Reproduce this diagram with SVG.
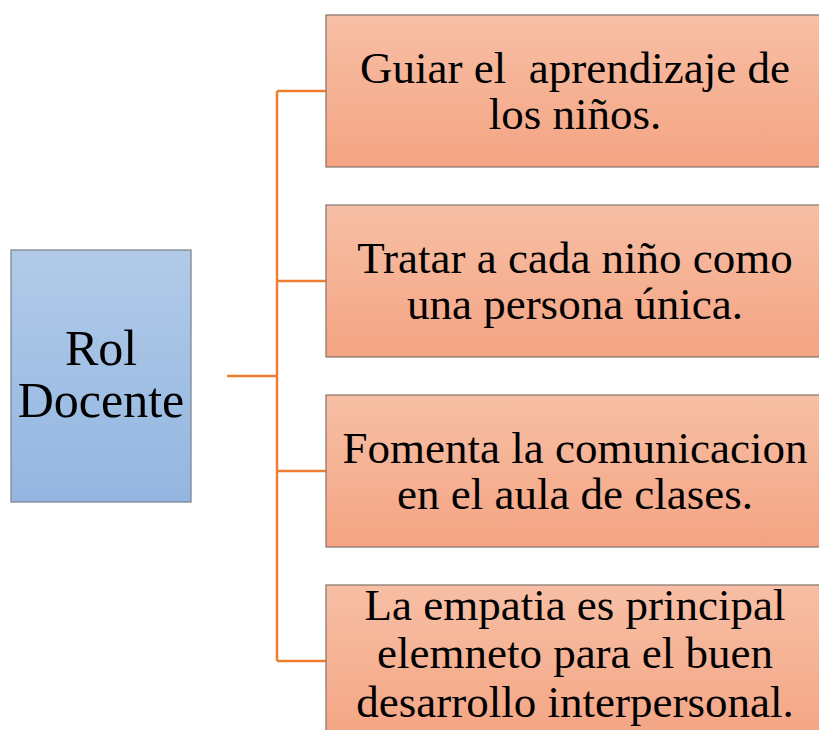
<svg xmlns="http://www.w3.org/2000/svg" width="819" height="730" viewBox="0 0 819 730">
<defs>
<linearGradient id="gO" x1="0" y1="0" x2="0" y2="1"><stop offset="0" stop-color="#F7BFA5"/><stop offset="1" stop-color="#F4A483"/></linearGradient>
<linearGradient id="gB" x1="0" y1="0" x2="0" y2="1"><stop offset="0" stop-color="#B1CAE8"/><stop offset="1" stop-color="#93B6E1"/></linearGradient>
</defs>
<style>
.ob{fill:url(#gO);stroke:#8C7A72;stroke-width:1.3}
.bb{fill:url(#gB);stroke:#7F8890;stroke-width:1.3}
.t{font-family:"Liberation Serif","Times New Roman",serif;font-size:45px;fill:#000;text-anchor:middle}
.tl{font-family:"Liberation Serif","Times New Roman",serif;font-size:50px;fill:#000;text-anchor:middle}
.c{fill:none;stroke:#ED7D31;stroke-width:2.5}
</style>
<g id="connectors">
<path class="c" d="M227 376H277M277 91V661M277 91H326M277 281H326M277 471H326M277 661H326"/>
</g>
<g id="root">
<rect class="bb" x="11" y="250" width="180" height="252"/>
<text class="tl" x="101" y="365">Rol</text>
<text class="tl" x="101" y="417">Docente</text>
</g>
<g id="n1">
<rect class="ob" x="326" y="15" width="500" height="152"/>
<text class="t" x="575" y="83" xml:space="preserve">Guiar el  aprendizaje de</text>
<text class="t" x="575" y="129">los niños.</text>
</g>
<g id="n2">
<rect class="ob" x="326" y="205" width="500" height="152"/>
<text class="t" x="575" y="273">Tratar a cada niño como</text>
<text class="t" x="575" y="319">una persona única.</text>
</g>
<g id="n3">
<rect class="ob" x="326" y="395" width="500" height="152"/>
<text class="t" x="575" y="463">Fomenta la comunicacion</text>
<text class="t" x="575" y="509">en el aula de clases.</text>
</g>
<g id="n4">
<rect class="ob" x="326" y="585" width="500" height="160"/>
<text class="t" x="575" y="620">La empatia es principal</text>
<text class="t" x="575" y="668">elemneto para el buen</text>
<text class="t" x="575" y="717">desarrollo interpersonal.</text>
</g>
</svg>
